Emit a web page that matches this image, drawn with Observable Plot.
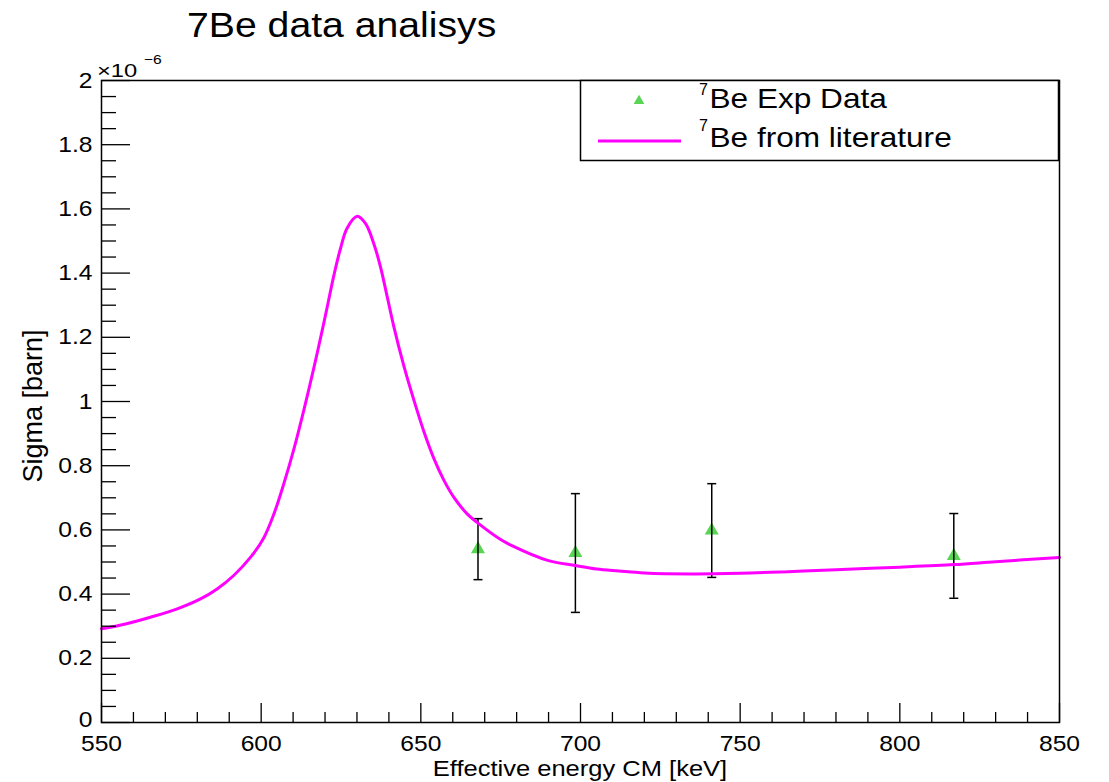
<!DOCTYPE html>
<html>
<head>
<meta charset="utf-8">
<script src="https://cdn.jsdelivr.net/npm/d3@7"></script>
<script src="https://cdn.jsdelivr.net/npm/@observablehq/plot@0.6"></script>
<style>
html,body{margin:0;padding:0;background:#fff;overflow:hidden;}
#chart svg{display:block;}
</style>
</head>
<body>
<div id="chart"></div>
<script>
// ---- Data (sigma in units of 1e-6 barn) ----
const energyLit = [550, 557.5, 565.3, 573.7, 581, 586.2, 591.4, 596.7, 600.8, 604, 607.1, 610.2, 613.4, 616.5, 618.6, 620.7, 622.7, 624.8, 626.9, 630.1, 632.7, 635.3, 637.4, 639.5, 641.5, 644.7, 647.8, 651, 654.1, 657.2, 660.3, 664.5, 668.7, 675, 678.5, 689.7, 698.4, 705, 712, 720, 735, 750, 765, 780, 800, 817, 830, 850];
const sigmaLit = [0.292, 0.307, 0.328, 0.354, 0.385, 0.416, 0.458, 0.515, 0.575, 0.650, 0.744, 0.850, 0.975, 1.105, 1.198, 1.295, 1.390, 1.475, 1.540, 1.577, 1.554, 1.491, 1.418, 1.325, 1.235, 1.110, 1.005, 0.905, 0.822, 0.755, 0.702, 0.650, 0.615, 0.570, 0.551, 0.505, 0.489, 0.478, 0.472, 0.466, 0.463, 0.465, 0.470, 0.476, 0.484, 0.492, 0.501, 0.514];

const energyExp = [667.9, 698.4, 741.1, 816.9];
const sigmaExp = [0.540, 0.528, 0.598, 0.519];
const sigmaErr = [0.095, 0.185, 0.146, 0.132];

const xMajorTicks = [550, 600, 650, 700, 750, 800, 850];
const yMajorTicks = [0, 0.2, 0.4, 0.6, 0.8, 1, 1.2, 1.4, 1.6, 1.8, 2];
const xMinorTicks = d3.range(550, 851, 10).filter(v => v % 50 !== 0);
const yMinorTicks = d3.range(0, 41).map(i => i * 0.05).filter((v, i) => i % 4 !== 0);

const titleText = "7Be data analisys";
const xTitle = "Effective energy CM [keV]";
const yTitle = "Sigma [barn]";
const legendLabels = ["Be Exp Data", "Be from literature"];

// ---- Layout / style ----
const FONT = "'Liberation Sans', Arial, Helvetica, sans-serif";
const W = 1109, H = 782;
const M = {left: 101, right: 50, top: 80, bottom: 60};
const FW = W - M.left - M.right, FH = H - M.top - M.bottom;
const MAGENTA = "#ff00ff", GREEN = "#59d454";

const lit = energyLit.map((e, i) => ({e, s: sigmaLit[i]}));
const exp = energyExp.map((e, i) => ({e, s: sigmaExp[i], err: sigmaErr[i]}));

const capSymbol = {draw(ctx) { ctx.moveTo(-4.5, 0); ctx.lineTo(4.5, 0); }};

const chart = Plot.plot({
  width: W, height: H,
  marginLeft: M.left, marginRight: M.right, marginTop: M.top, marginBottom: M.bottom,
  style: {fontFamily: FONT, fontSize: "22px", color: "#000", background: "#fff", overflow: "visible"},
  x: {domain: [550, 850], label: null},
  y: {domain: [0, 2], label: null},
  marks: [
    Plot.dot(exp, {x: "e", y: "s", symbol: "triangle", r: 5.2, fill: GREEN, stroke: "none"}),
    Plot.ruleX(exp, {x: "e", y1: d => d.s - d.err, y2: d => d.s + d.err, stroke: "#000", strokeWidth: 1.5}),
    Plot.dot(exp, {x: "e", y: d => d.s - d.err, symbol: capSymbol, fill: "none", stroke: "#000", strokeWidth: 1.5}),
    Plot.dot(exp, {x: "e", y: d => d.s + d.err, symbol: capSymbol, fill: "none", stroke: "#000", strokeWidth: 1.5}),
    Plot.line(lit, {x: "e", y: "s", stroke: MAGENTA, strokeWidth: 3, curve: "catmull-rom"}),
    Plot.tickY(yMinorTicks, {y: d => d, insetRight: FW - 15, stroke: "#000", strokeWidth: 1.3}),
    Plot.tickY(yMajorTicks, {y: d => d, insetRight: FW - 29, stroke: "#000", strokeWidth: 1.3}),
    Plot.tickX(xMinorTicks, {x: d => d, insetTop: FH - 10, stroke: "#000", strokeWidth: 1.3}),
    Plot.tickX(xMajorTicks, {x: d => d, insetTop: FH - 19, stroke: "#000", strokeWidth: 1.3}),
    Plot.axisX(xMajorTicks, {tickSize: 0, tickPadding: 13, tickFormat: d => String(d), label: null}),
    Plot.axisY(yMajorTicks, {tickSize: 0, tickPadding: 9, tickFormat: d3.format("~g"), label: null}),
    Plot.frame({stroke: "#000", strokeWidth: 1.5})
  ]
});
document.getElementById("chart").appendChild(chart);

// stretch tick labels horizontally (reference glyphs are wider); lift the "0" label slightly
d3.select(chart).selectAll('g[aria-label="x-axis tick label"] text, g[aria-label="y-axis tick label"] text')
  .each(function() {
    const t = this.getAttribute("transform");
    if (!t) return;
    const isZeroY = this.parentNode.getAttribute("aria-label") === "y-axis tick label" && this.textContent === "0";
    this.setAttribute("transform", t + (isZeroY ? " translate(0,-3)" : "") + " scale(1.12,1)");
  });

// ---- Legend box (drawn first, texts on top) ----
const root = d3.select(chart);
const lg = root.append("g");
lg.append("rect").attr("x", 580.5).attr("y", 80.5).attr("width", 478).attr("height", 80)
  .attr("fill", "#fff").attr("stroke", "#000").attr("stroke-width", 1.5);
lg.append("path").attr("d", d3.symbol(d3.symbolTriangle, 50)())
  .attr("transform", "translate(639,101)").attr("fill", GREEN);
lg.append("line").attr("x1", 598).attr("x2", 681).attr("y1", 141).attr("y2", 141)
  .attr("stroke", MAGENTA).attr("stroke-width", 3);

// ---- Texts ----
const ann = root.append("g").attr("font-family", FONT).attr("fill", "#000");
function txt(x, y, str, size, o = {}) {
  return ann.append("text")
    .attr("transform", `translate(${x},${y})` + (o.rotate ? ` rotate(${o.rotate})` : "") + (o.sx ? ` scale(${o.sx},1)` : ""))
    .attr("font-size", size)
    .attr("text-anchor", o.anchor || "start")
    .text(str);
}
txt(187, 37, titleText, 35, {sx: 1.12});
txt(97, 77, "×10", 19, {sx: 1.25});
txt(144, 64, "−6", 13, {sx: 1.2});
txt(580, 776, xTitle, 22, {anchor: "middle", sx: 1.16});
txt(42, 406, yTitle, 27, {anchor: "middle", rotate: -90});

txt(699, 94.7, "7", 16);
txt(709.5, 107.5, legendLabels[0], 27, {sx: 1.17});
txt(699, 131.3, "7", 16);
txt(709.5, 146.5, legendLabels[1], 27, {sx: 1.17});
</script>
</body>
</html>
